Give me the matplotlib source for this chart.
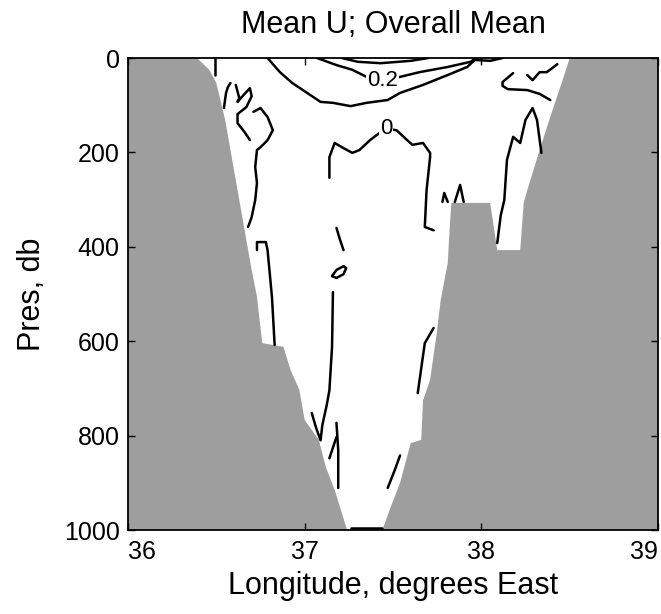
import matplotlib
matplotlib.use('Agg')
import matplotlib.pyplot as plt

plt.rcParams['font.family'] = ['Liberation Sans', 'DejaVu Sans']

# Bottom topography (longitude, pressure) bounding the section
west_land = [(36.0, 0), (36.39, 0), (36.46, 25), (36.50, 53), (36.55, 131), (36.58, 195),
             (36.63, 301), (36.67, 386), (36.70, 449), (36.73, 506), (36.76, 604),
             (36.88, 612), (36.92, 661), (36.97, 703), (37.00, 767), (37.08, 809),
             (37.12, 867), (37.17, 915), (37.24, 1000), (36.0, 1000)]
east_land = [(39.0, 0), (38.50, 0), (38.46, 47), (38.39, 125), (38.33, 195), (38.26, 280),
             (38.24, 307), (38.22, 407), (38.09, 407), (38.05, 307), (37.83, 307),
             (37.82, 365), (37.81, 434), (37.77, 513), (37.75, 576), (37.71, 682),
             (37.67, 725), (37.66, 809), (37.60, 816), (37.54, 900), (37.48, 958),
             (37.44, 1000), (39.0, 1000)]

# Contour segments of mean U (longitude, pressure)
u_outer = [(36.79, 0), (36.86, 30), (36.93, 53), (37.05, 83), (37.09, 93), (37.16, 95),
           (37.26, 102), (37.35, 95), (37.47, 89), (37.54, 74), (37.67, 57), (37.81, 36),
           (37.92, 19), (37.975, 0)]
u_02 = [(37.07, 0), (37.18, 15), (37.27, 25), (37.35, 40), (37.44, 47), (37.54, 40),
        (37.65, 30), (37.81, 19), (37.94, 8), (37.97, 0)]
u_03 = [(37.21, 0), (37.30, 8), (37.43, 11), (37.60, 6), (37.70, 0)]
u_surf = [(37.96, 4), (38.05, 6), (38.12, 0)]
u_tick_w = [(36.49, 0), (36.49, 36)]
u_zero = [(37.14, 254), (37.14, 210), (37.17, 180), (37.22, 191), (37.27, 201),
          (37.31, 195), (37.37, 174), (37.43, 157), (37.46, 150), (37.52, 153),
          (37.58, 174), (37.61, 184), (37.67, 180), (37.71, 201), (37.71, 210),
          (37.69, 280), (37.68, 358), (37.73, 365)]
w_arc = [(36.58, 53), (36.565, 62), (36.555, 74), (36.543, 106)]
w_squiggle = [(36.61, 57), (36.63, 85), (36.62, 93), (36.66, 76), (36.69, 64), (36.70, 81),
              (36.67, 104), (36.62, 119), (36.62, 138), (36.66, 157), (36.69, 174)]
w_long = [(36.71, 114), (36.75, 106), (36.79, 125), (36.82, 153), (36.79, 174), (36.75, 189),
          (36.73, 195), (36.72, 231), (36.73, 265), (36.72, 301), (36.70, 337), (36.68, 358)]
w_hook = [(36.73, 407), (36.73, 390), (36.78, 390), (36.79, 407), (36.815, 507), (36.83, 608)]
mid_dash = [(37.18, 360), (37.20, 385), (37.22, 407)]
mid_loop = [(37.155, 462), (37.18, 449), (37.22, 441), (37.235, 445), (37.22, 458),
            (37.18, 466), (37.155, 462)]
mid_v = [(37.16, 496), (37.155, 612), (37.14, 704), (37.125, 735), (37.10, 778),
         (37.09, 810), (37.065, 784), (37.04, 752)]
deep_stem = [(37.18, 773), (37.19, 831), (37.19, 911)]
deep_branch = [(37.18, 803), (37.14, 848)]
deep_east = [(37.54, 842), (37.51, 873), (37.47, 911)]
floor_seg = [(37.26, 996), (37.44, 996)]
e_slope = [(37.73, 572), (37.68, 604), (37.64, 710)]
e_caret1 = [(37.78, 305), (37.79, 286), (37.81, 305)]
e_caret2 = [(37.85, 305), (37.88, 269), (37.90, 305)]
e_peak = [(38.09, 392), (38.11, 333), (38.13, 301), (38.145, 216), (38.18, 167), (38.22, 180),
          (38.25, 131), (38.29, 106), (38.315, 131), (38.34, 201)]
e_cup = [(38.18, 32), (38.12, 51), (38.12, 59), (38.15, 66), (38.26, 68), (38.33, 76),
         (38.39, 89)]
e_wiggle = [(38.26, 36), (38.29, 47), (38.33, 30), (38.37, 30), (38.41, 19), (38.43, 13)]

contour_segments = [u_outer, u_02, u_03, u_surf, u_tick_w, u_zero, w_arc, w_squiggle, w_long,
                    w_hook, mid_dash, mid_loop, mid_v, deep_stem, deep_branch, deep_east,
                    floor_seg, e_slope, e_caret1, e_caret2, e_peak, e_cup, e_wiggle]

# Inline contour labels (text, longitude, pressure)
contour_labels = [('0.2', 37.44, 47), ('0', 37.46, 150)]

fig = plt.figure(figsize=(6.61, 6.14), dpi=100)
ax = fig.add_axes([128 / 661, 84 / 614, 530 / 661, 472 / 614])

for land in (west_land, east_land):
    lon, pres = zip(*land)
    ax.fill(lon, pres, facecolor='#9e9e9e', edgecolor='none', linewidth=0, zorder=1)

for seg in contour_segments:
    lon, pres = zip(*seg)
    ax.plot(lon, pres, color='black', linewidth=1.8, solid_capstyle='round', zorder=3)

for text, lon, pres in contour_labels:
    ax.text(lon, pres, text, fontsize=16, ha='center', va='center', zorder=4,
            bbox=dict(facecolor='white', edgecolor='none', pad=0.5))

ax.set_xlim(36, 39)
ax.set_ylim(1000, 0)
ax.set_xticks([36, 37, 38, 39])
ax.set_yticks([0, 200, 400, 600, 800, 1000])
ax.tick_params(direction='in', length=5, width=1, top=True, right=True, labelsize=18)
ax.tick_params(axis='x', pad=7)
ax.tick_params(axis='y', pad=6)
xlabels = ax.get_xticklabels()
xlabels[0].set_ha('left')
xlabels[-1].set_ha('right')
for spine in ax.spines.values():
    spine.set_linewidth(1.3)

ax.set_title('Mean U; Overall Mean', fontsize=22, pad=18)
ax.set_xlabel('Longitude, degrees East', fontsize=22, labelpad=5)
ax.set_ylabel('Pres, db', fontsize=22, labelpad=12)

fig.savefig('out.png', dpi=100)
